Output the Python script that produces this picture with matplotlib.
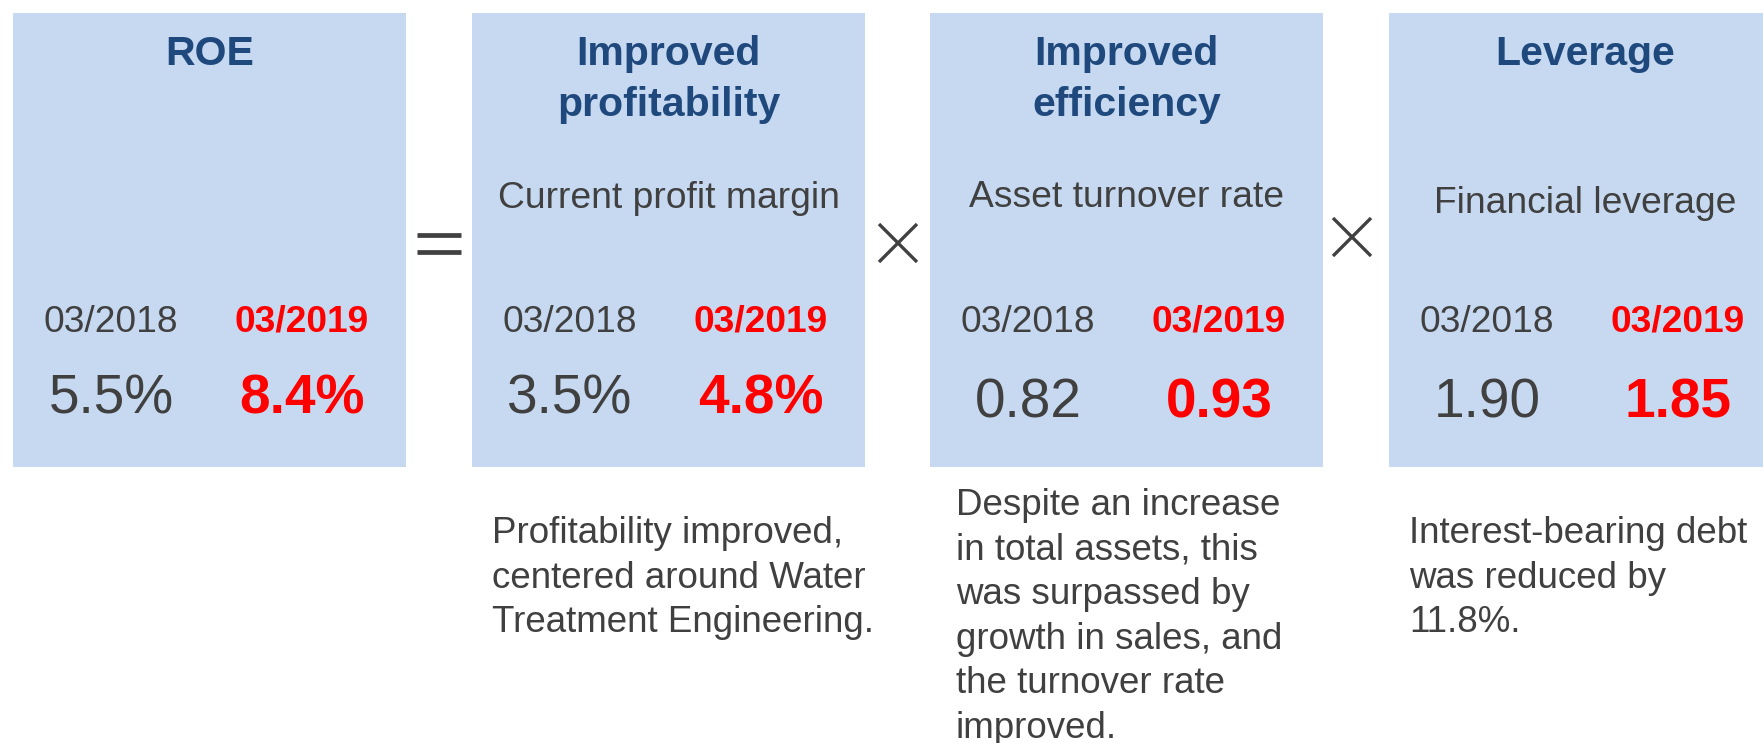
import matplotlib
matplotlib.use("Agg")
import matplotlib.pyplot as plt
from matplotlib.patches import Rectangle

# ---- content ----
titles = ["ROE", "Improved\nprofitability", "Improved\nefficiency", "Leverage"]
subtitles = ["", "Current profit margin", "Asset turnover rate", "Financial leverage"]
prev_label = "03/2018"
curr_label = "03/2019"
prev_values = ["5.5%", "3.5%", "0.82", "1.90"]
curr_values = ["8.4%", "4.8%", "0.93", "1.85"]
notes = [
    "",
    "Profitability improved,\ncentered around Water\nTreatment Engineering.",
    "Despite an increase\nin total assets, this\nwas surpassed by\ngrowth in sales, and\nthe turnover rate\nimproved.",
    "Interest-bearing debt\nwas reduced by\n11.8%.",
]
operators = ["=", "×", "×"]

# ---- style ----
BOX = "#C6D9F0"
NAVY = "#1F497D"
GRAY = "#404040"
RED = "#FF0000"
FONT = "Liberation Sans"

W, H = 1763, 743
fig = plt.figure(figsize=(W / 100, H / 100), dpi=100)
ax = fig.add_axes([0, 0, 1, 1])
ax.set_xlim(0, W)
ax.set_ylim(H, 0)
ax.axis("off")

box_left = [13, 472, 930, 1389]
box_w = 393
box_top, box_bot = 13, 467
sub_base = [208, 208, 207, 213]
val_base = [413, 413, 418, 418]

for i in range(4):
    x0 = box_left[i]
    ax.add_patch(Rectangle((x0, box_top), box_w, box_bot - box_top,
                           facecolor=BOX, edgecolor="none", zorder=1))
    cx = x0 + box_w / 2
    for j, line in enumerate(titles[i].split("\n")):
        ax.text(cx, 65 + 51 * j, line, ha="center", va="baseline",
                fontsize=29.5, fontweight="bold", color=NAVY, family=FONT, zorder=2)
    if subtitles[i]:
        ax.text(cx, sub_base[i], subtitles[i], ha="center", va="baseline",
                fontsize=26.8, color=GRAY, family=FONT, zorder=2)
    lx = x0 + 98
    rx = x0 + 289
    ax.text(lx, 332, prev_label, ha="center", va="baseline",
            fontsize=26.7, color=GRAY, family=FONT, zorder=2)
    ax.text(rx, 332, curr_label, ha="center", va="baseline",
            fontsize=26.7, fontweight="bold", color=RED, family=FONT, zorder=2)
    ax.text(lx, val_base[i], prev_values[i], ha="center", va="baseline",
            fontsize=39.6, color=GRAY, family=FONT, zorder=2)
    ax.text(rx, val_base[i], curr_values[i], ha="center", va="baseline",
            fontsize=39.6, fontweight="bold", color=RED, family=FONT, zorder=2)

# notes under boxes
note_left = [0, 492, 956, 1409]
note_first = [0, 543, 515, 543]
for i in range(4):
    if not notes[i]:
        continue
    for j, line in enumerate(notes[i].split("\n")):
        ax.text(note_left[i], note_first[i] + 44.6 * j, line, ha="left", va="baseline",
                fontsize=26.5, color=GRAY, family=FONT, zorder=2)

# operators between boxes
op_cx = [439, 898, 1352]
op_cy = [243, 243, 237]
for k, op in enumerate(operators):
    cx, cy = op_cx[k], op_cy[k]
    if op == "=":
        for dy in (-8.5, 8.5):
            ax.plot([cx - 22, cx + 22], [cy + dy, cy + dy], color=GRAY,
                    lw=3.4, solid_capstyle="butt", zorder=2)
    else:
        h = 19
        ax.plot([cx - h, cx + h], [cy - h, cy + h], color=GRAY, lw=2.4,
                solid_capstyle="butt", zorder=2)
        ax.plot([cx - h, cx + h], [cy + h, cy - h], color=GRAY, lw=2.4,
                solid_capstyle="butt", zorder=2)

fig.savefig("out.png", dpi=100, facecolor="white")
